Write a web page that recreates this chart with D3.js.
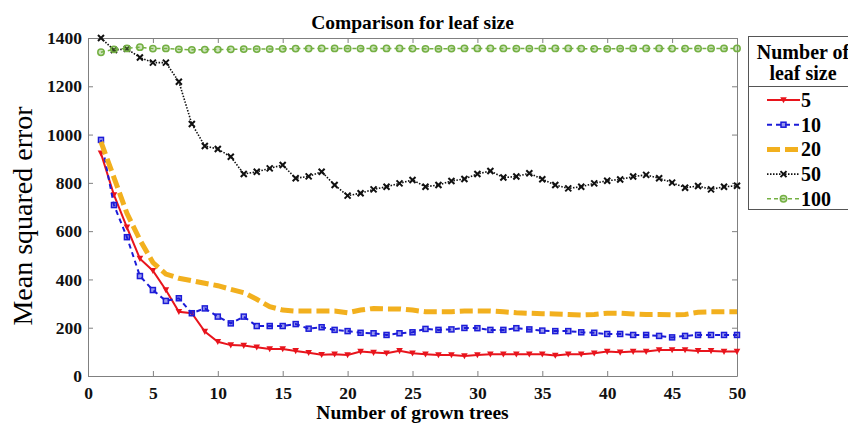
<!DOCTYPE html>
<html>
<head>
  <script src="https://cdnjs.cloudflare.com/ajax/libs/d3/7.8.5/d3.min.js"></script>
  <style>
    body { margin: 0; background: #fff; }
    text { font-family: "Liberation Serif", "Times New Roman", serif; }
  </style>
</head>
<body>
  <div id="chart"></div>
  <script>
    var trees = [1,2,3,4,5,6,7,8,9,10,11,12,13,14,15,16,17,18,19,20,21,22,23,24,25,
                 26,27,28,29,30,31,32,33,34,35,36,37,38,39,40,41,42,43,44,45,46,47,48,49,50];

    var mse5 = [922,750,616,486,436,356,266,260,184,142,128,126,119,112,112,104,96,88,90,87,
                101,97,94,104,94,90,87,87,83,87,90,90,90,90,90,85,90,90,94,101,
                98,101,101,108,108,108,104,104,101,101];
    var mse10 = [978,708,575,414,356,311,322,260,280,246,218,246,207,207,207,215,196,202,191,186,
                 179,177,170,177,181,195,191,193,199,198,191,191,198,193,188,186,186,181,179,174,
                 174,170,170,166,160,166,170,170,170,170];
    var mse20 = [970,822,674,564,470,422,405,395,384,374,359,345,318,287,273,269,269,269,269,262,
                 273,280,278,278,273,266,266,266,269,269,269,266,262,260,258,257,255,253,255,260,
                 260,257,255,255,253,255,264,266,266,266];
    var mse50 = [1400,1350,1355,1319,1298,1298,1219,1044,953,940,908,837,846,860,874,819,827,846,791,747,
                 757,773,784,798,812,784,791,808,816,837,849,822,826,840,815,791,777,784,798,809,
                 814,826,833,819,801,780,787,773,784,788];
    var mse100 = [1341,1353,1357,1362,1356,1357,1353,1351,1352,1352,1353,1354,1354,1354,1355,1356,1356,1357,1357,1356,
                  1356,1357,1357,1357,1356,1355,1355,1356,1357,1357,1357,1357,1356,1356,1357,1357,1357,1356,1355,1355,
                  1356,1357,1357,1357,1356,1356,1356,1357,1357,1357];

    var leafSizes = ["5", "10", "20", "50", "100"];
    var xTicks = [0,5,10,15,20,25,30,35,40,45,50];
    var yTicks = [0,200,400,600,800,1000,1200,1400];

    var series = [
      { name: "5",   values: mse5,   color: "#e8141c", width: 2,   dash: null,    marker: "tri" },
      { name: "10",  values: mse10,  color: "#1c1cd8", width: 2,   dash: "5,4",   marker: "square" },
      { name: "20",  values: mse20,  color: "#f2b01e", width: 5,   dash: "13,5",  marker: null },
      { name: "50",  values: mse50,  color: "#111111", width: 1.6, dash: "1.5,1.5", marker: "cross" },
      { name: "100", values: mse100, color: "#74b043", width: 1.5, dash: "4,3",   marker: "circle" }
    ];

    var W = 848, H = 425;
    var svg = d3.select("#chart").append("svg")
      .attr("width", W).attr("height", H);

    var x = d3.scaleLinear().domain([0, 50]).range([88, 737]);
    var y = d3.scaleLinear().domain([0, 1400]).range([376, 38]);

    var axisColor = "#808080";
    var tickFont = "17.5px";

    // axes (ticks pointing inside, MATLAB style box)
    var gx = svg.append("g")
      .attr("transform", "translate(0," + y(0) + ")")
      .call(d3.axisBottom(x).tickValues(xTicks).tickFormat(d3.format("d"))
        .tickSizeInner(-5).tickSizeOuter(0).tickPadding(11));
    var gy = svg.append("g")
      .attr("transform", "translate(" + x(0) + ",0)")
      .call(d3.axisLeft(y).tickValues(yTicks).tickFormat(d3.format("d"))
        .tickSizeInner(-5).tickSizeOuter(0).tickPadding(6));
    var gt = svg.append("g")
      .attr("transform", "translate(0," + y(1400) + ")")
      .call(d3.axisTop(x).tickValues(xTicks).tickSizeInner(-5).tickSizeOuter(0).tickFormat(""));
    var gr = svg.append("g")
      .attr("transform", "translate(" + x(50) + ",0)")
      .call(d3.axisRight(y).tickValues(yTicks).tickSizeInner(-5).tickSizeOuter(0).tickFormat(""));

    [gx, gy, gt, gr].forEach(function(g) {
      g.selectAll("path, line").attr("stroke", axisColor);
      g.selectAll("text")
        .attr("fill", "#111")
        .style("font-size", tickFont)
        .style("font-weight", "bold")
        .style("font-family", "'Liberation Serif', 'Times New Roman', serif");
    });

    // lines
    var line = d3.line()
      .x(function(d, i) { return x(trees[i]); })
      .y(function(d) { return y(d); });

    function drawMarker(g, type, color, cx, cy) {
      if (type === "tri") {
        g.append("path")
          .attr("d", "M" + (cx - 3.3) + "," + (cy - 2.8) + "L" + (cx + 3.3) + "," + (cy - 2.8) + "L" + cx + "," + (cy + 3.3) + "Z")
          .attr("fill", color);
      } else if (type === "square") {
        g.append("rect")
          .attr("x", cx - 2.5).attr("y", cy - 2.5)
          .attr("width", 5).attr("height", 5)
          .attr("fill", color).attr("fill-opacity", 0.45)
          .attr("stroke", color).attr("stroke-width", 1.5);
      } else if (type === "cross") {
        g.append("path")
          .attr("d", "M" + (cx - 3) + "," + (cy - 3) + "L" + (cx + 3) + "," + (cy + 3) +
                     "M" + (cx - 3) + "," + (cy + 3) + "L" + (cx + 3) + "," + (cy - 3))
          .attr("stroke", color).attr("stroke-width", 2);
      } else if (type === "circle") {
        g.append("circle")
          .attr("cx", cx).attr("cy", cy).attr("r", 3.2)
          .attr("fill", color).attr("fill-opacity", 0.35)
          .attr("stroke", color).attr("stroke-width", 1.5);
      }
    }

    series.forEach(function(s) {
      var g = svg.append("g");
      g.append("path")
        .datum(s.values)
        .attr("d", line)
        .attr("fill", "none")
        .attr("stroke", s.color)
        .attr("stroke-width", s.width)
        .attr("stroke-dasharray", s.dash);
      if (s.marker) {
        s.values.forEach(function(v, i) {
          drawMarker(g, s.marker, s.color, x(trees[i]), y(v));
        });
      }
    });

    // title and axis labels
    svg.append("text")
      .attr("x", (x(0) + x(50)) / 2)
      .attr("y", 29)
      .attr("text-anchor", "middle")
      .style("font-size", "19.5px")
      .style("font-weight", "bold")
      .text("Comparison for leaf size");

    svg.append("text")
      .attr("x", (x(0) + x(50)) / 2)
      .attr("y", 419)
      .attr("text-anchor", "middle")
      .style("font-size", "19.5px")
      .style("font-weight", "bold")
      .text("Number of grown trees");

    svg.append("text")
      .attr("transform", "translate(32," + 216 + ") rotate(-90)")
      .attr("text-anchor", "middle")
      .style("font-size", "28px")
      .text("Mean squared error");

    // legend
    var lg = svg.append("g");
    lg.append("rect")
      .attr("x", 748.5).attr("y", 36.5)
      .attr("width", 110).attr("height", 173)
      .attr("fill", "#fff").attr("stroke", "#555");
    lg.append("line")
      .attr("x1", 748.5).attr("x2", 858).attr("y1", 86.5).attr("y2", 86.5)
      .attr("stroke", "#555");
    lg.append("text")
      .attr("x", 803).attr("y", 59)
      .attr("text-anchor", "middle")
      .style("font-size", "20px").style("font-weight", "bold")
      .text("Number of");
    lg.append("text")
      .attr("x", 803).attr("y", 80)
      .attr("text-anchor", "middle")
      .style("font-size", "20px").style("font-weight", "bold")
      .text("leaf size");

    series.forEach(function(s, i) {
      var ly = 100 + i * 24.7;
      lg.append("line")
        .attr("x1", 767).attr("x2", 800)
        .attr("y1", ly).attr("y2", ly)
        .attr("stroke", s.color)
        .attr("stroke-width", s.width)
        .attr("stroke-dasharray", s.dash);
      if (s.marker) drawMarker(lg, s.marker, s.color, 783.5, ly);
      lg.append("text")
        .attr("x", 801).attr("y", ly + 7)
        .style("font-size", "20px").style("font-weight", "bold")
        .text(leafSizes[i]);
    });
  </script>
</body>
</html>
